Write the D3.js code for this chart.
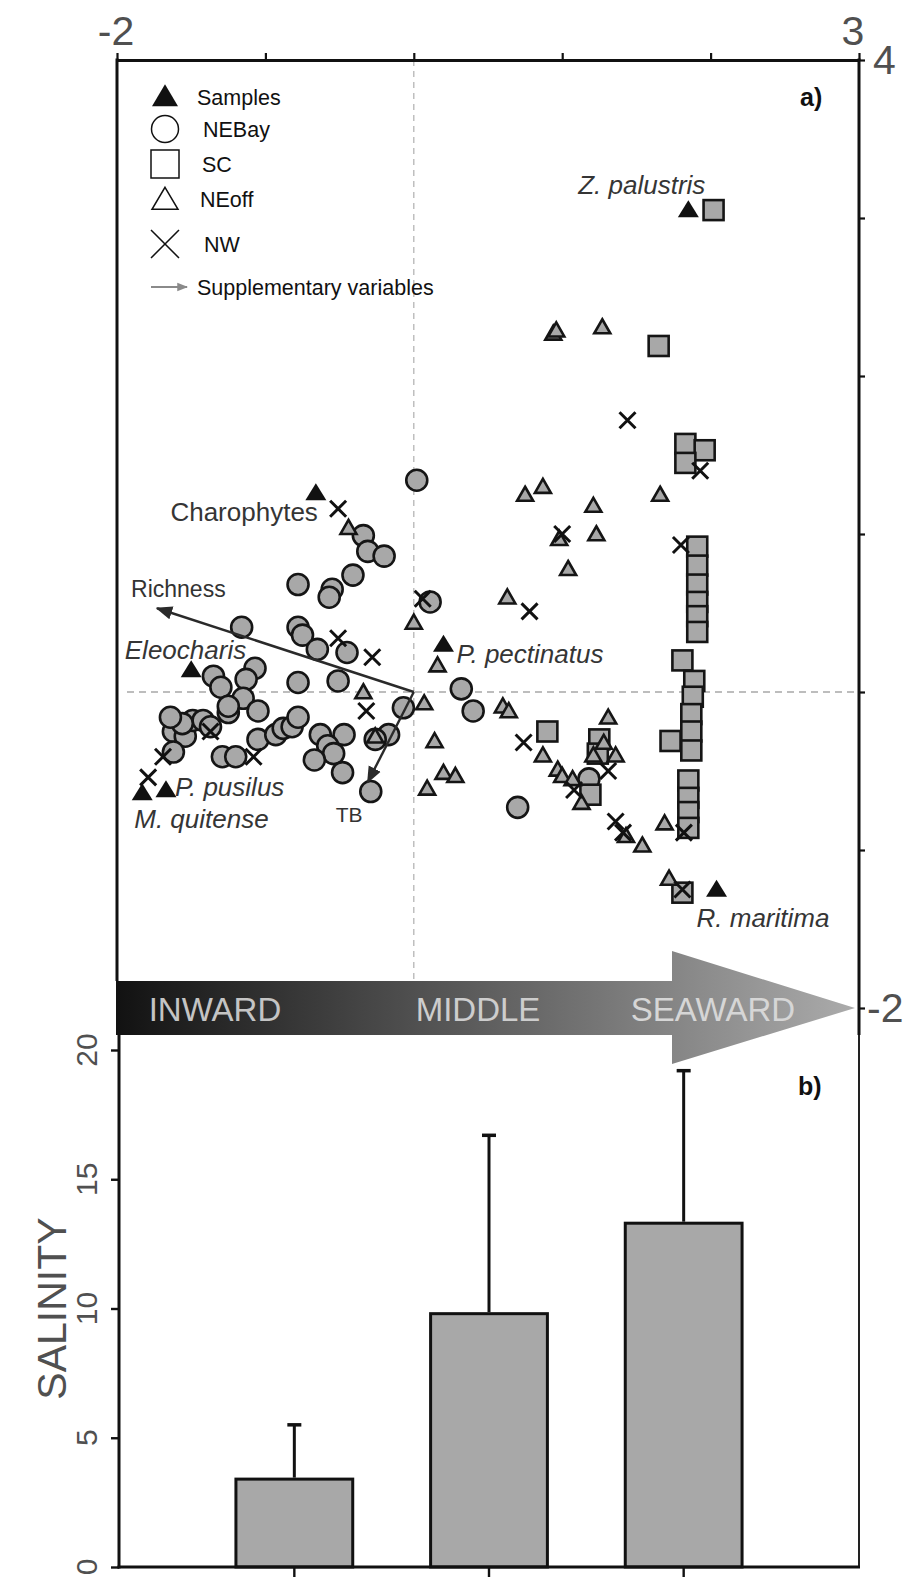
<!DOCTYPE html>
<html>
<head>
<meta charset="utf-8">
<script src="https://cdn.jsdelivr.net/npm/d3@7/dist/d3.min.js"></script>
<style>
  body { margin: 0; background: #fff; }
  svg { display: block; }
</style>
</head>
<body>
<svg id="fig" width="915" height="1579"></svg>
<script>
// ---------- data: ordination scores (axis 1, axis 2) ----------
const nebay = [
  [0.02,1.34],[-0.34,0.99],[-0.31,0.89],[-0.20,0.86],[-0.41,0.74],[-0.78,0.68],[-0.55,0.65],[-0.57,0.60],
  [-1.16,0.41],[-0.78,0.41],[-0.75,0.36],[-0.65,0.27],[-0.45,0.25],[-1.35,0.10],[-1.07,0.15],[-1.13,0.08],
  [-0.78,0.06],[-0.51,0.07],[-1.30,0.03],[-1.15,-0.04],[-1.05,-0.12],[-1.25,-0.13],[-0.07,-0.10],[-1.62,-0.25],
  [-1.54,-0.28],[-1.49,-0.18],[-1.42,-0.18],[-1.37,-0.22],[-1.56,-0.20],[-1.62,-0.38],[-1.29,-0.41],[-1.20,-0.41],
  [-1.05,-0.30],[-0.93,-0.27],[-0.88,-0.23],[-0.82,-0.22],[-0.78,-0.16],[-0.63,-0.27],[-0.47,-0.27],[-0.58,-0.34],
  [-0.54,-0.39],[-0.67,-0.43],[-0.48,-0.51],[-0.29,-0.63],[-0.17,-0.27],[-0.26,-0.30],[-1.25,-0.09],[-1.64,-0.16],
  [0.11,0.57],[0.32,0.02],[0.40,-0.12],[0.70,-0.73],[1.18,-0.55]
];
const sc = [
  [2.02,3.05],[1.65,2.19],[1.83,1.57],[1.96,1.53],[1.83,1.45],[1.91,0.92],[1.91,0.80],[1.91,0.68],[1.91,0.57],
  [1.91,0.48],[1.91,0.38],[1.81,0.20],[1.89,0.07],[1.88,-0.03],[1.87,-0.14],[1.87,-0.25],[1.73,-0.31],[1.87,-0.37],
  [1.85,-0.56],[1.85,-0.67],[1.85,-0.76],[1.85,-0.86],[0.90,-0.25],[1.25,-0.30],[1.24,-0.39],[1.19,-0.65],[1.81,-1.27]
];
const neoff = [
  [0.94,2.26],[0.96,2.28],[1.27,2.30],[0.75,1.24],[0.87,1.29],[1.66,1.24],[1.21,1.17],[0.98,0.96],[1.23,0.99],
  [1.04,0.77],[0.63,0.59],[0.00,0.43],[0.16,0.16],[0.07,-0.08],[0.60,-0.10],[0.64,-0.13],[0.14,-0.32],[0.87,-0.41],
  [0.20,-0.52],[0.28,-0.54],[0.09,-0.62],[0.97,-0.50],[1.00,-0.54],[1.31,-0.17],[1.28,-0.33],[1.21,-0.41],[1.36,-0.41],
  [1.13,-0.71],[1.54,-0.98],[1.43,-0.92],[1.69,-0.84],[1.72,-1.19],[1.07,-0.56],[-0.44,1.03],[-0.34,-0.01],[-0.26,-0.29]
];
const nw = [
  [-0.51,1.16],[0.06,0.59],[-0.51,0.34],[-0.28,0.22],[-0.32,-0.12],[-1.37,-0.25],[-1.08,-0.41],[-1.69,-0.41],
  [-1.79,-0.54],[1.44,1.72],[1.93,1.40],[1.80,0.93],[1.00,1.00],[0.78,0.51],[0.74,-0.32],[1.31,-0.50],[1.08,-0.62],
  [1.36,-0.82],[1.41,-0.89],[1.82,-0.89],[1.81,-1.25]
];
const speciesNames = ["Z. palustris","Charophytes","Eleocharis","P. pectinatus","P. pusilus","M. quitense","R. maritima"];
const speciesScores = [[1.85,3.04],[-0.66,1.25],[-1.50,0.13],[0.20,0.29],[-1.67,-0.63],[-1.83,-0.65],[2.04,-1.26]];
const suppNames = ["Richness","TB"];
const suppScores = [[-1.73,0.53],[-0.31,-0.57]];

// ---------- data: salinity by zone ----------
const zones = ["INWARD","MIDDLE","SEAWARD"];
const salinityMean = [3.4, 9.8, 13.3];
const salinitySD = [2.1, 6.9, 5.9];
const salinityTicks = [0, 5, 10, 15, 20];

// axis end labels
const xEndLabels = [-2, 3];
const yEndLabels = [4, -2];
const legendItems = ["Samples","NEBay","SC","NEoff","NW","Supplementary variables"];

// ---------- layout ----------
const svg = d3.select("#fig");
const L = 117, R = 859, T = 60;
const bandTop = 981, bandBot = 1035;
const x = d3.scaleLinear().domain([-2, 3]).range([L, R]);
const y = d3.scaleLinear().domain([-2, 4]).range([1008, T]);
const narrow = "'Liberation Sans Narrow','Arial Narrow','Liberation Sans',Arial,sans-serif";
const sans = "'Liberation Sans',Arial,Helvetica,sans-serif";

// label placement for species / supplementary variables (pixel offsets)
const speciesLabelPos = {
  "Z. palustris": {dx: 17, dy: -18, anchor: "end"},
  "Charophytes": {dx: 2, dy: 26, anchor: "end", upright: true},
  "Eleocharis": {dx: 55, dy: -12, anchor: "end"},
  "P. pectinatus": {dx: 13, dy: 17, anchor: "start"},
  "P. pusilus": {dx: 9, dy: 4, anchor: "start"},
  "M. quitense": {dx: -8, dy: 33, anchor: "start"},
  "R. maritima": {dx: -20, dy: 36, anchor: "start"}
};
const suppLabelPos = {
  "Richness": {dx: -26, dy: -11},
  "TB": {dx: -32, dy: 40}
};

// ---------- symbol paths ----------
const triPath = (w, h) => `M0,${-h*2/3}L${w/2},${h/3}L${-w/2},${h/3}Z`;
const crossPath = s => `M${-s/2},${-s/2}L${s/2},${s/2}M${s/2},${-s/2}L${-s/2},${s/2}`;

// ---------- reference lines ----------
const gRef = svg.append("g");
gRef.append("line").attr("x1", x(0)).attr("x2", x(0)).attr("y1", T).attr("y2", bandTop)
  .attr("stroke", "#b5b5b5").attr("stroke-width", 1.3).attr("stroke-dasharray", "6,5");
gRef.append("line").attr("x1", L + 10).attr("x2", R).attr("y1", y(0)).attr("y2", y(0))
  .attr("stroke", "#a8a8a8").attr("stroke-width", 1.3).attr("stroke-dasharray", "7,5");

// ---------- samples ----------
const gPts = svg.append("g");
gPts.selectAll("circle.nebay").data(nebay).join("circle")
  .attr("cx", d => x(d[0])).attr("cy", d => y(d[1])).attr("r", 10.5)
  .attr("fill", "#a8a8a8").attr("stroke", "#151515").attr("stroke-width", 2.6);
gPts.selectAll("rect.sc").data(sc).join("rect")
  .attr("x", d => x(d[0]) - 10).attr("y", d => y(d[1]) - 10).attr("width", 20).attr("height", 20)
  .attr("fill", "#a8a8a8").attr("stroke", "#151515").attr("stroke-width", 2.6);
gPts.selectAll("path.neoff").data(neoff).join("path")
  .attr("transform", d => `translate(${x(d[0])},${y(d[1])})`)
  .attr("d", triPath(16, 14))
  .attr("fill", "#a8a8a8").attr("stroke", "#151515").attr("stroke-width", 2.6).attr("stroke-linejoin", "miter");
gPts.selectAll("path.nw").data(nw).join("path")
  .attr("transform", d => `translate(${x(d[0])},${y(d[1])})`)
  .attr("d", crossPath(16))
  .attr("fill", "none").attr("stroke", "#111").attr("stroke-width", 3);

// ---------- supplementary variables ----------
const defs = svg.append("defs");
defs.append("marker").attr("id", "headDark").attr("viewBox", "0 0 10 10").attr("refX", 9).attr("refY", 5)
  .attr("markerWidth", 7).attr("markerHeight", 7).attr("markerUnits", "strokeWidth").attr("orient", "auto")
  .append("path").attr("d", "M0,1L10,5L0,9Z").attr("fill", "#2a2a2a");
defs.append("marker").attr("id", "headGrey").attr("viewBox", "0 0 10 10").attr("refX", 9).attr("refY", 5)
  .attr("markerWidth", 6).attr("markerHeight", 6).attr("markerUnits", "strokeWidth").attr("orient", "auto")
  .append("path").attr("d", "M0,1L10,5L0,9Z").attr("fill", "#8a8a8a");

const gSupp = svg.append("g");
gSupp.selectAll("line").data(suppScores).join("line")
  .attr("x1", x(0)).attr("y1", y(0))
  .attr("x2", d => x(d[0])).attr("y2", d => y(d[1]))
  .attr("stroke", "#2a2a2a").attr("stroke-width", 2.4).attr("marker-end", "url(#headDark)");
gSupp.selectAll("text").data(suppNames).join("text")
  .attr("x", (n, i) => x(suppScores[i][0]) + suppLabelPos[n].dx)
  .attr("y", (n, i) => y(suppScores[i][1]) + suppLabelPos[n].dy)
  .attr("font-family", sans).attr("font-size", n => n === "TB" ? 21 : 23).attr("fill", "#333")
  .text(n => n);

// ---------- species ----------
const gSp = svg.append("g");
gSp.selectAll("path").data(speciesScores).join("path")
  .attr("transform", d => `translate(${x(d[0])},${y(d[1])})`)
  .attr("d", triPath(21, 17)).attr("fill", "#111");
gSp.selectAll("text").data(speciesNames).join("text")
  .attr("x", (n, i) => x(speciesScores[i][0]) + speciesLabelPos[n].dx)
  .attr("y", (n, i) => y(speciesScores[i][1]) + speciesLabelPos[n].dy)
  .attr("text-anchor", n => speciesLabelPos[n].anchor)
  .attr("font-family", sans).attr("font-size", 26)
  .attr("font-style", n => speciesLabelPos[n].upright ? "normal" : "italic")
  .attr("fill", "#353535")
  .text(n => n);

// ---------- legend ----------
const gLeg = svg.append("g").attr("font-family", sans).attr("font-size", 21.5).attr("fill", "#111");
const legY = [97, 129, 164, 199, 244, 287];
const legX = [197, 203, 202, 200, 204, 197];
const lx = 165;
gLeg.append("path").attr("transform", `translate(${lx},${legY[0] + 2})`).attr("d", triPath(26, 22)).attr("fill", "#111");
gLeg.append("circle").attr("cx", lx).attr("cy", legY[1]).attr("r", 13.5)
  .attr("fill", "none").attr("stroke", "#111").attr("stroke-width", 1.5);
gLeg.append("rect").attr("x", lx - 14).attr("y", legY[2] - 14).attr("width", 28).attr("height", 28)
  .attr("fill", "none").attr("stroke", "#111").attr("stroke-width", 1.5);
gLeg.append("path").attr("transform", `translate(${lx},${legY[3] + 3})`).attr("d", triPath(26, 22))
  .attr("fill", "none").attr("stroke", "#111").attr("stroke-width", 1.5);
gLeg.append("path").attr("transform", `translate(${lx},${legY[4]})`).attr("d", crossPath(28))
  .attr("fill", "none").attr("stroke", "#111").attr("stroke-width", 1.5);
gLeg.append("line").attr("x1", 151).attr("x2", 187).attr("y1", legY[5]).attr("y2", legY[5])
  .attr("stroke", "#8a8a8a").attr("stroke-width", 1.8).attr("marker-end", "url(#headGrey)");
gLeg.selectAll("text").data(legendItems).join("text")
  .attr("x", (d, i) => legX[i]).attr("y", (d, i) => legY[i] + 8).text(d => d);

// ---------- frame & axes of panel a ----------
const gAx = svg.append("g");
const topAxis = d3.axisTop(x).ticks(5).tickSize(7).tickSizeOuter(0).tickFormat("");
gAx.append("g").attr("transform", `translate(0,${T})`).call(topAxis)
  .call(g => g.select(".domain").attr("stroke", "#111").attr("stroke-width", 3))
  .call(g => g.selectAll(".tick line").attr("stroke", "#111").attr("stroke-width", 2.2));
const rightAxis = d3.axisRight(y).ticks(6).tickSize(6).tickSizeOuter(0).tickFormat("");
gAx.append("g").attr("transform", `translate(${R},0)`).call(rightAxis)
  .call(g => g.select(".domain").remove())
  .call(g => g.selectAll(".tick line").attr("stroke", "#111").attr("stroke-width", 2.2));
gAx.append("line").attr("x1", R).attr("x2", R).attr("y1", T - 1.5).attr("y2", bandBot)
  .attr("stroke", "#111").attr("stroke-width", 3);
gAx.append("line").attr("x1", L).attr("x2", L).attr("y1", T - 1.5).attr("y2", bandTop)
  .attr("stroke", "#111").attr("stroke-width", 3);

gAx.selectAll("text.xl").data(xEndLabels).join("text")
  .attr("x", d => x(d) + (d === 3 ? -6 : -1)).attr("y", 45).attr("text-anchor", "middle")
  .attr("font-family", narrow).attr("font-size", 41).attr("fill", "#505050").text(d => d);
gAx.selectAll("text.yl").data(yEndLabels).join("text")
  .attr("x", d => R + (d === 4 ? 14 : 8)).attr("y", d => y(d) + 14)
  .attr("font-family", narrow).attr("font-size", 41).attr("fill", "#505050").text(d => d);

svg.append("text").attr("x", 800).attr("y", 106).attr("font-family", sans).attr("font-weight", "bold")
  .attr("font-size", 25).attr("fill", "#111").text("a)");

// ---------- gradient band arrow ----------
const grad = defs.append("linearGradient").attr("id", "bandGrad")
  .attr("gradientUnits", "userSpaceOnUse").attr("x1", L).attr("x2", 855).attr("y1", 0).attr("y2", 0);
grad.append("stop").attr("offset", 0).attr("stop-color", "#121212");
grad.append("stop").attr("offset", 1).attr("stop-color", "#ababab");
const headX = 672, tipX = 855, midY = y(-2);
svg.append("path")
  .attr("d", `M${L - 1},${bandTop}L${headX},${bandTop}L${headX},951L${tipX},${midY}L${headX},1064L${headX},${bandBot}L${L - 1},${bandBot}Z`)
  .attr("fill", "url(#bandGrad)");
const bandTextX = [215, 478, 713];
const bandTextFill = ["#c4c4c4", "#cdcdcd", "#d6d6d6"];
svg.selectAll("text.band").data(zones).join("text")
  .attr("x", (d, i) => bandTextX[i]).attr("y", 1021).attr("text-anchor", "middle")
  .attr("font-family", narrow).attr("font-size", 33).attr("fill", (d, i) => bandTextFill[i])
  .text(d => d);

// ---------- panel b: salinity ----------
const yb = d3.scaleLinear().domain([0, 20]).range([1567, 1050]);
const xb = d3.scaleBand().domain(zones).range([197, 781]).padding(0);
const barW = xb.bandwidth() * 0.6;
const gB = svg.append("g");
gB.selectAll("rect").data(zones).join("rect")
  .attr("x", d => xb(d) + (xb.bandwidth() - barW) / 2)
  .attr("y", (d, i) => yb(salinityMean[i]))
  .attr("width", barW)
  .attr("height", (d, i) => yb(0) - yb(salinityMean[i]))
  .attr("fill", "#a8a8a8").attr("stroke", "#111").attr("stroke-width", 3);
// upper error whiskers
gB.selectAll("line.err").data(zones).join("line")
  .attr("x1", d => xb(d) + xb.bandwidth() / 2).attr("x2", d => xb(d) + xb.bandwidth() / 2)
  .attr("y1", (d, i) => yb(salinityMean[i]) - 1.5)
  .attr("y2", (d, i) => yb(salinityMean[i] + salinitySD[i]))
  .attr("stroke", "#111").attr("stroke-width", 3);
gB.selectAll("line.cap").data(zones).join("line")
  .attr("x1", d => xb(d) + xb.bandwidth() / 2 - 7).attr("x2", d => xb(d) + xb.bandwidth() / 2 + 7)
  .attr("y1", (d, i) => yb(salinityMean[i] + salinitySD[i]))
  .attr("y2", (d, i) => yb(salinityMean[i] + salinitySD[i]))
  .attr("stroke", "#111").attr("stroke-width", 3.5);

// axes of panel b
const leftAxis = d3.axisLeft(yb).tickValues(salinityTicks).tickSize(8).tickSizeOuter(0).tickFormat("");
gB.append("g").attr("transform", "translate(119,0)").call(leftAxis)
  .call(g => g.select(".domain").remove())
  .call(g => g.selectAll(".tick line").attr("stroke", "#111").attr("stroke-width", 2.4));
gB.append("line").attr("x1", 119).attr("x2", 119).attr("y1", bandBot).attr("y2", yb(0) + 1.5)
  .attr("stroke", "#111").attr("stroke-width", 3);
gB.append("line").attr("x1", R).attr("x2", R).attr("y1", bandBot).attr("y2", yb(0))
  .attr("stroke", "#222").attr("stroke-width", 2);
const bottomAxis = d3.axisBottom(xb).tickSize(10).tickSizeOuter(0).tickFormat("");
gB.append("g").attr("transform", `translate(0,${yb(0)})`).call(bottomAxis)
  .call(g => g.select(".domain").remove())
  .call(g => g.selectAll(".tick line").attr("stroke", "#111").attr("stroke-width", 2.4));
gB.append("line").attr("x1", 117.5).attr("x2", R + 1).attr("y1", yb(0)).attr("y2", yb(0))
  .attr("stroke", "#111").attr("stroke-width", 3);

gB.selectAll("text.tl").data(salinityTicks).join("text")
  .attr("transform", d => `translate(97,${yb(d)}) rotate(-90)`)
  .attr("text-anchor", "middle").attr("font-family", sans).attr("font-size", 30).attr("fill", "#505050")
  .text(d => d);
gB.append("text").attr("transform", `translate(66,${yb(10)}) rotate(-90)`)
  .attr("text-anchor", "middle").attr("font-family", sans).attr("font-size", 41).attr("fill", "#505050")
  .text("SALINITY");
svg.append("text").attr("x", 798).attr("y", 1095).attr("font-family", sans).attr("font-weight", "bold")
  .attr("font-size", 25).attr("fill", "#111").text("b)");
</script>
</body>
</html>
